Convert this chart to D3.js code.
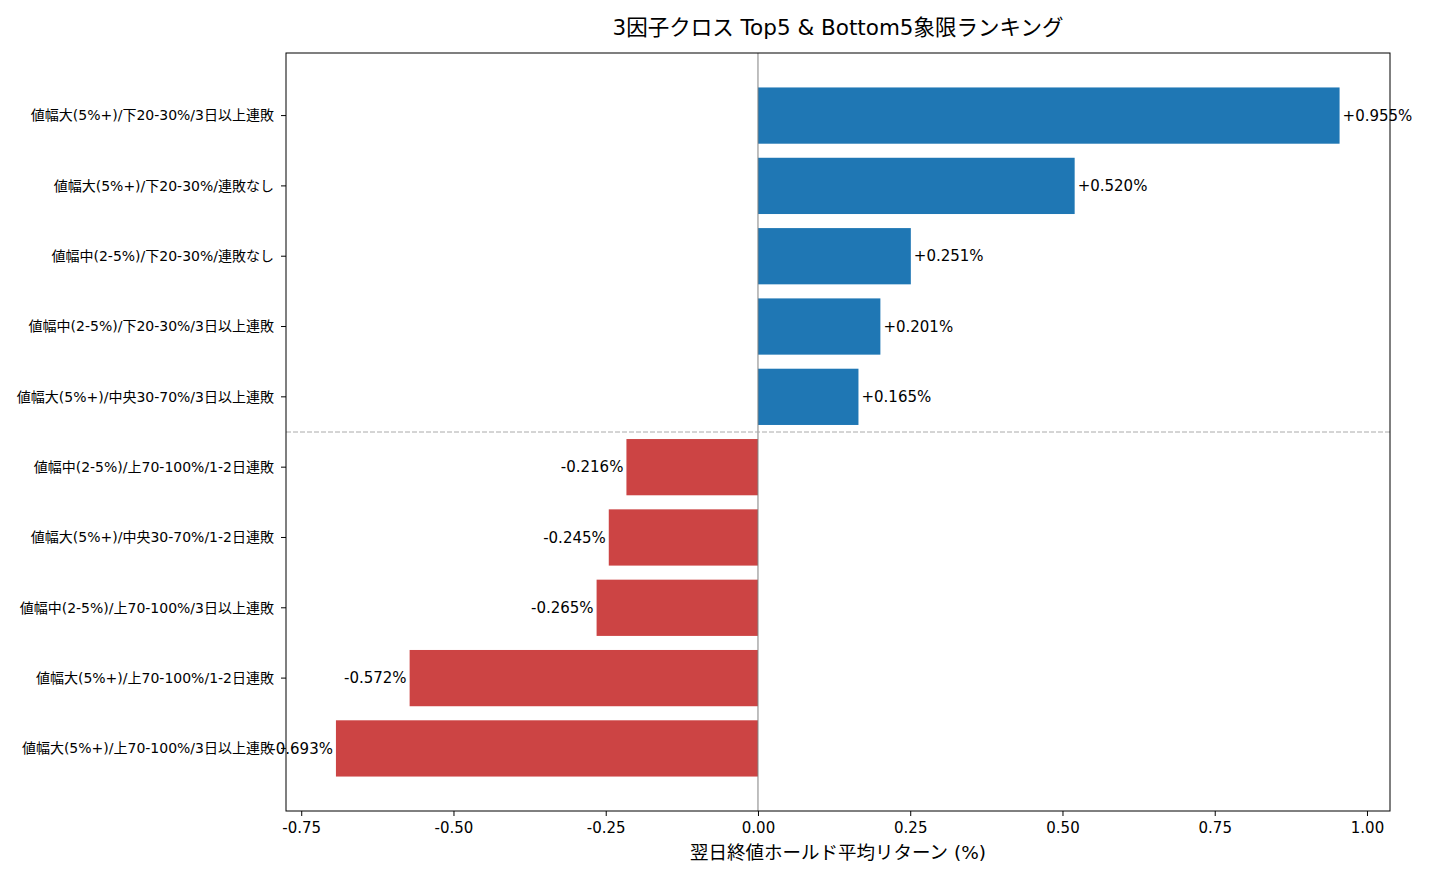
<!DOCTYPE html>
<html>
<head>
<meta charset="utf-8">
<script src="https://cdn.jsdelivr.net/npm/d3@7"></script>
<style>
  body { margin: 0; background: #fff; }
  text { font-family: "DejaVu Sans", "Noto Sans CJK JP", sans-serif; fill: #000; }
</style>
</head>
<body>
<div id="chart"></div>
<script>
const categories = [
    "値幅大(5%+)/下20-30%/3日以上連敗",
    "値幅大(5%+)/下20-30%/連敗なし",
    "値幅中(2-5%)/下20-30%/連敗なし",
    "値幅中(2-5%)/下20-30%/3日以上連敗",
    "値幅大(5%+)/中央30-70%/3日以上連敗",
    "値幅中(2-5%)/上70-100%/1-2日連敗",
    "値幅大(5%+)/中央30-70%/1-2日連敗",
    "値幅中(2-5%)/上70-100%/3日以上連敗",
    "値幅大(5%+)/上70-100%/1-2日連敗",
    "値幅大(5%+)/上70-100%/3日以上連敗"
];
const returns = [0.955, 0.520, 0.251, 0.201, 0.165, -0.216, -0.245, -0.265, -0.572, -0.693];
const xTicks = [-0.75, -0.50, -0.25, 0.00, 0.25, 0.50, 0.75, 1.00];

const W = 1430, H = 880;
const margin = { top: 53, right: 40, bottom: 69, left: 286 };
const width = W - margin.left - margin.right;
const height = H - margin.top - margin.bottom;

const svg = d3.select("#chart")
    .append("svg")
    .attr("width", W)
    .attr("height", H);

const g = svg.append("g")
    .attr("transform", `translate(${margin.left},${margin.top})`);

const x = d3.scaleLinear()
    .domain([-0.775, 1.0378])
    .range([0, width]);

const y = d3.scaleLinear()
    .domain([-0.89, 9.89])
    .range([0, height]);

const barH = y(0.8) - y(0);

g.selectAll(".bar")
    .data(returns)
    .enter()
    .append("rect")
    .attr("class", "bar")
    .attr("x", d => x(Math.min(0, d)))
    .attr("y", (d, i) => y(i - 0.4))
    .attr("width", d => Math.abs(x(d) - x(0)))
    .attr("height", barH)
    .attr("fill", d => d >= 0 ? "#1f77b4" : "#cc4444");

// zero line
g.append("line")
    .attr("x1", x(0)).attr("x2", x(0))
    .attr("y1", 0).attr("y2", height)
    .attr("stroke", "#808080")
    .attr("stroke-width", 1);

// separator between top5 and bottom5
g.append("line")
    .attr("x1", 0).attr("x2", width)
    .attr("y1", y(4.5)).attr("y2", y(4.5))
    .attr("stroke", "#aaaaaa")
    .attr("stroke-width", 1)
    .attr("stroke-dasharray", "5,2");

g.selectAll(".val")
    .data(returns)
    .enter()
    .append("text")
    .attr("class", "val")
    .attr("x", d => d >= 0 ? x(d) + 3 : x(d) - 3)
    .attr("y", (d, i) => y(i))
    .attr("dy", "0.35em")
    .attr("text-anchor", d => d >= 0 ? "start" : "end")
    .style("font-size", "15px")
    .text(d => (d >= 0 ? "+" : "") + d.toFixed(3) + "%");

// y axis labels
const yAxis = g.append("g");
categories.forEach((c, i) => {
    yAxis.append("line")
        .attr("x1", -5).attr("x2", 0)
        .attr("y1", y(i)).attr("y2", y(i))
        .attr("stroke", "#000");
    yAxis.append("text")
        .attr("x", -12)
        .attr("y", y(i))
        .attr("dy", "0.35em")
        .attr("text-anchor", "end")
        .style("font-size", "14px")
        .text(c);
});

g.append("g")
    .attr("transform", `translate(0,${height})`)
    .call(d3.axisBottom(x).tickValues(xTicks).tickFormat(d => d.toFixed(2)).tickSize(5).tickPadding(6))
    .call(a => a.select(".domain").remove())
    .selectAll("text")
    .style("font-size", "15px")
    .style("font-family", "'DejaVu Sans', sans-serif");

// frame
g.append("rect")
    .attr("width", width)
    .attr("height", height)
    .attr("fill", "none")
    .attr("stroke", "#000")
    .attr("stroke-width", 1);

svg.append("text")
    .attr("x", margin.left + width / 2)
    .attr("y", 35)
    .attr("text-anchor", "middle")
    .style("font-size", "21.5px")
    .text("3因子クロス Top5 & Bottom5象限ランキング");

svg.append("text")
    .attr("x", margin.left + width / 2)
    .attr("y", 859)
    .attr("text-anchor", "middle")
    .style("font-size", "18.5px")
    .text("翌日終値ホールド平均リターン (%)");
</script>
</body>
</html>
